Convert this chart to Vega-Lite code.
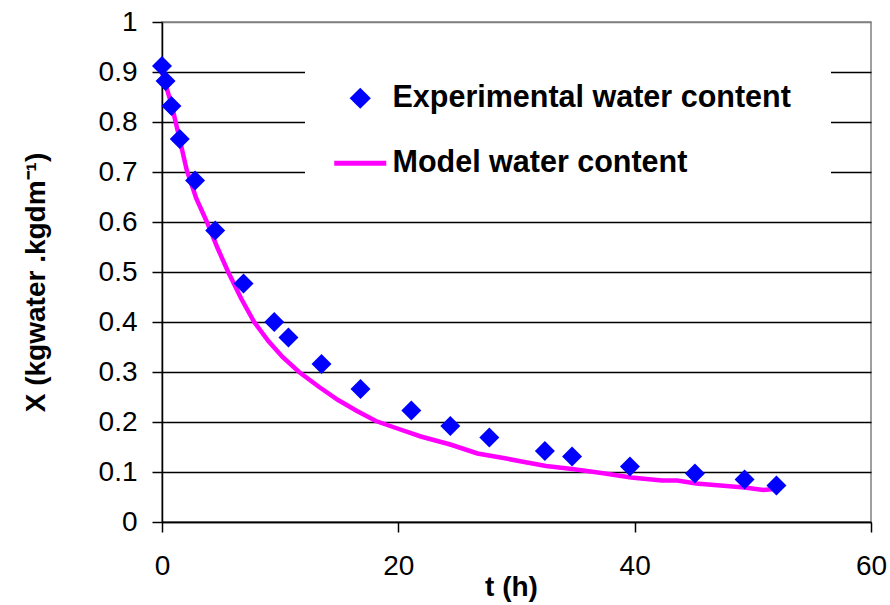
{
  "$schema": "https://vega.github.io/schema/vega-lite/v6.json",
  "width": 709,
  "height": 500,
  "autosize": {"type": "none"},
  "padding": {"left": 162, "top": 22, "right": 19, "bottom": 83},
  "background": "white",
  "config": {
    "font": "Liberation Sans",
    "view": {"stroke": "#808080", "strokeWidth": 1.5},
    "axis": {
      "labelFont": "Liberation Sans",
      "titleFont": "Liberation Sans",
      "labelColor": "black",
      "titleColor": "black",
      "domainColor": "black",
      "tickColor": "black",
      "domainWidth": 1.5,
      "tickWidth": 1.5
    },
    "legend": {"labelFont": "Liberation Sans"}
  },
  "datasets": {
    "experimental": [
      {"t": 0, "X": 0.912},
      {"t": 0.3, "X": 0.882},
      {"t": 0.8, "X": 0.832},
      {"t": 1.5, "X": 0.766},
      {"t": 2.8, "X": 0.683},
      {"t": 4.5, "X": 0.583},
      {"t": 6.9, "X": 0.477},
      {"t": 9.5, "X": 0.4},
      {"t": 10.7, "X": 0.369},
      {"t": 13.5, "X": 0.316},
      {"t": 16.8, "X": 0.266},
      {"t": 21.1, "X": 0.223},
      {"t": 24.4, "X": 0.192},
      {"t": 27.7, "X": 0.169},
      {"t": 32.4, "X": 0.142},
      {"t": 34.7, "X": 0.131},
      {"t": 39.6, "X": 0.111},
      {"t": 45.1, "X": 0.097},
      {"t": 49.3, "X": 0.085},
      {"t": 52.0, "X": 0.073}
    ],
    "model": [
      {"t": 0, "X": 0.9},
      {"t": 0.3, "X": 0.875},
      {"t": 0.8, "X": 0.836},
      {"t": 1.5, "X": 0.765},
      {"t": 2.1, "X": 0.703},
      {"t": 2.9, "X": 0.647},
      {"t": 3.8, "X": 0.6},
      {"t": 4.7, "X": 0.548},
      {"t": 5.6, "X": 0.5},
      {"t": 6.7, "X": 0.447},
      {"t": 7.8, "X": 0.4},
      {"t": 9.0, "X": 0.362},
      {"t": 10.2, "X": 0.33},
      {"t": 11.6, "X": 0.3},
      {"t": 13.3, "X": 0.27},
      {"t": 14.9, "X": 0.244},
      {"t": 16.5, "X": 0.222},
      {"t": 18.1, "X": 0.202},
      {"t": 19.8, "X": 0.188},
      {"t": 21.9, "X": 0.171},
      {"t": 24.4, "X": 0.155},
      {"t": 26.7, "X": 0.137},
      {"t": 28.9, "X": 0.128},
      {"t": 30.2, "X": 0.122},
      {"t": 32.5, "X": 0.112},
      {"t": 34.7, "X": 0.106},
      {"t": 37.2, "X": 0.098},
      {"t": 39.7, "X": 0.089},
      {"t": 42.3, "X": 0.083},
      {"t": 43.6, "X": 0.083},
      {"t": 45.2, "X": 0.077},
      {"t": 49.3, "X": 0.069},
      {"t": 50.9, "X": 0.064},
      {"t": 51.8, "X": 0.066}
    ]
  },
  "layer": [
    {
      "data": {"name": "model"},
      "mark": {"type": "line", "strokeWidth": 4.5},
      "encoding": {
        "x": {
          "field": "t",
          "type": "quantitative",
          "scale": {"domain": [0, 60], "nice": false},
          "axis": {
            "values": [0, 20, 40, 60],
            "title": "t (h)",
            "grid": false,
            "tickSize": 10,
            "labelFontSize": 28,
            "labelPadding": 20,
            "labelFlush": false,
            "labelOverlap": false,
            "titleFontSize": 28,
            "titleFontWeight": "bold",
            "titleX": 349,
            "titleY": 65,
            "titleBaseline": "middle"
          }
        },
        "y": {
          "field": "X",
          "type": "quantitative",
          "scale": {"domain": [0, 1], "nice": false},
          "axis": {
            "values": [0, 0.1, 0.2, 0.3, 0.4, 0.5, 0.6, 0.7, 0.8, 0.9, 1],
            "title": "X (kgwater .kgdm⁻¹)",
            "grid": true,
            "gridColor": {"condition": {"test": "datum.value >= 0.999", "value": "#808080"}, "value": "black"},
            "gridWidth": 1.5,
            "tickSize": 10,
            "labelFontSize": 28,
            "labelPadding": 15,
            "labelExpr": "format(datum.value, '.1~f')",
            "titleFontSize": 28,
            "titleFontWeight": "bold",
            "titleAngle": -90,
            "titleX": -126,
            "titleY": 260,
            "titleBaseline": "middle"
          }
        },
        "color": {
          "datum": "Model water content",
          "scale": {
            "domain": ["Experimental water content", "Model water content"],
            "range": ["#0000FF", "#FF00FF"]
          },
          "legend": {
            "orient": "none",
            "legendX": 143,
            "legendY": 21,
            "title": null,
            "padding": 40,
            "fillColor": "white",
            "symbolType": "stroke",
            "symbolSize": 2704,
            "symbolStrokeWidth": 5,
            "labelFontSize": 30.5,
            "labelFontWeight": "bold",
            "labelColor": "black",
            "labelOffset": 17,
            "labelLimit": 0,
            "rowPadding": 34,
            "encode": {
              "symbols": {
                "update": {
                  "shape": {"signal": "datum.value == 'Model water content' ? 'stroke' : 'diamond'"},
                  "size": {"signal": "datum.value == 'Model water content' ? 2704 : 450"},
                  "fill": {"signal": "datum.value == 'Model water content' ? 'transparent' : '#0000FF'"},
                  "stroke": {"signal": "datum.value == 'Model water content' ? '#FF00FF' : 'transparent'"},
                  "strokeWidth": {"signal": "datum.value == 'Model water content' ? 5 : 0"},
                  "opacity": {"value": 1},
                  "fillOpacity": {"value": 1},
                  "strokeOpacity": {"value": 1}
                }
              }
            }
          }
        }
      }
    },
    {
      "data": {"name": "experimental"},
      "mark": {"type": "point", "shape": "diamond", "filled": true, "size": 400, "opacity": 1},
      "encoding": {
        "x": {"field": "t", "type": "quantitative"},
        "y": {"field": "X", "type": "quantitative"},
        "color": {"datum": "Experimental water content"}
      }
    }
  ]
}
